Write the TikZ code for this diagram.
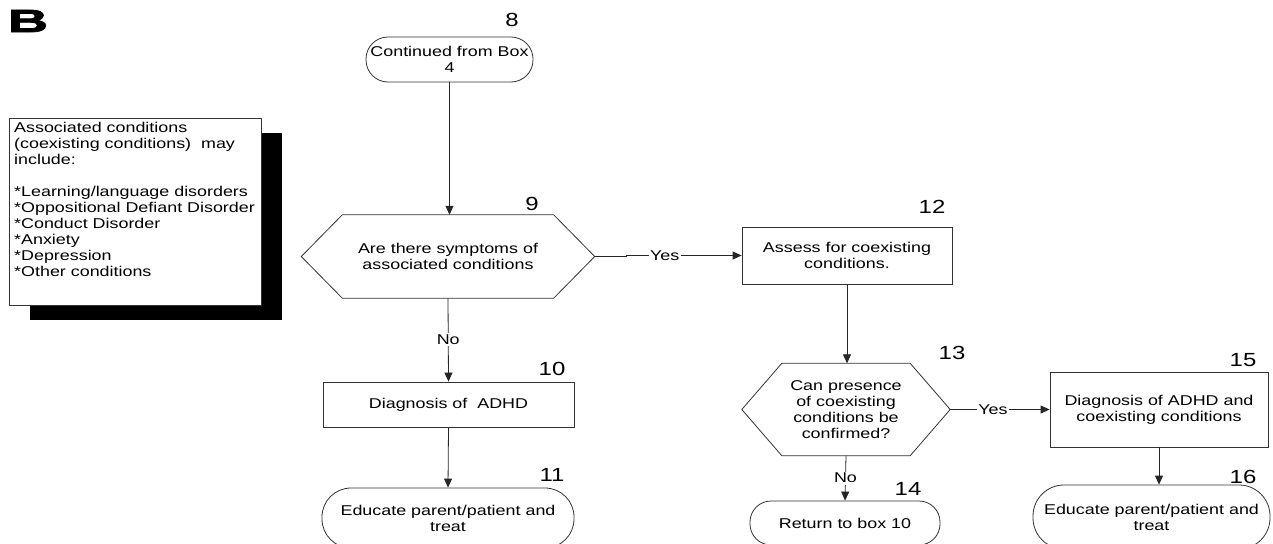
\documentclass[tikz,border=0pt]{standalone}
\usepackage{fontspec}
\setmainfont[FakeStretch=1.26]{Liberation Sans}
\newfontfamily\Bfont[FakeStretch=1.75,FakeBold=2.5]{Liberation Sans}
\usetikzlibrary{arrows.meta}
\newcommand{\hexshape}[2]{%
  \draw[shapeline] (#1.west) -- ([xshift=#2]#1.north west) -- ([xshift=-#2]#1.north east)
    -- (#1.east) -- ([xshift=-#2]#1.south east) -- ([xshift=#2]#1.south west) -- cycle;}
\begin{document}
\begin{tikzpicture}[x=1pt,y=-1pt,
  every node/.style={font=\fontsize{14.2}{16}\selectfont, inner sep=0pt},
  shapeline/.style={draw=black!80, line width=0.8pt},
  arr/.style={draw=black!85, line width=0.8pt, -{Triangle[length=9pt,width=8pt]}},
  boxnode/.style={shapeline, align=center},
  term/.style={boxnode, rounded corners=#1},
  num/.style={font=\fontsize{19}{19}\selectfont},
  yn/.style={fill=white, inner sep=1.5pt}]
\useasboundingbox (0,0) rectangle (1273,543);
\begin{scope}
\clip (0,0) rectangle (1273,543);
% panel letter
\node[font=\Bfont\bfseries\fontsize{32}{32}\selectfont] (B) at (28,21) {B};
% side note with shadow
\fill[black] (30,133) rectangle (282,320);
\node[shapeline, fill=white, minimum width=252pt, minimum height=187pt] (assoc) at (135,211.5) {};
\node[anchor=north west, align=left] (assoctext) at (14,122.5) {Associated conditions\\(coexisting conditions)\ \ may\\include:\\[16pt]*Learning/language disorders\\*Oppositional Defiant Disorder\\*Conduct Disorder\\*Anxiety\\*Depression\\*Other conditions};
% flow nodes
\node[term=22pt, minimum width=167pt, minimum height=45pt] (n8) at (449.5,59.5) {Continued from Box\\4};
\node[align=center, minimum width=293pt, minimum height=83pt] (n9) at (448,256.5) {Are there symptoms of\\associated conditions};
\hexshape{n9}{41pt}
\node[boxnode, minimum width=210pt, minimum height=57pt] (n12) at (847,255.5) {Assess for coexisting\\conditions.};
\node[boxnode, minimum width=251pt, minimum height=45pt] (n10) at (448.5,404.5) {Diagnosis of\ \ ADHD};
\node[term=29pt, minimum width=252pt, minimum height=60pt] (n11) at (448,518) {Educate parent/patient and\\treat};
\node[align=center, minimum width=208pt, minimum height=92pt] (n13) at (846,409.5) {Can presence\\of coexisting\\conditions be\\confirmed?};
\hexshape{n13}{40pt}
\node[term=21pt, minimum width=190pt, minimum height=44pt] (n14) at (845,523) {Return to box 10};
\node[boxnode, minimum width=218pt, minimum height=75pt] (n15) at (1159,409.5) {Diagnosis of ADHD and\\coexisting conditions};
\node[term=31pt, minimum width=237pt, minimum height=64pt] (n16) at (1151.5,517) {Educate parent/patient and\\treat};
% numbers
\node[num] (l8) at (512,20) {8};
\node[num] (l9) at (532,204) {9};
\node[num] (l12) at (932,207) {12};
\node[num] (l10) at (552,369) {10};
\node[num] (l11) at (552,475) {11};
\node[num] (l13) at (952,353) {13};
\node[num] (l14) at (908,489) {14};
\node[num] (l15) at (1243,360) {15};
\node[num] (l16) at (1243,477) {16};
% connectors
\draw[arr] (n8.south) -- (n8.south |- n9.north);
\draw[arr] (n9.south) -- node[yn] (no1) {No} (n10.north);
\draw[arr] (n9.east) -- ++(32pt,0) |- node[yn, pos=0.665] (yes1) {Yes} (n12.west);
\draw[arr] (n12.south) -- (n12.south |- n13.north);
\draw[arr] (n10.south) -- (n11.north);
\draw[arr] (n13.east) -- node[yn, pos=0.43] (yes2) {Yes} (n15.west);
\draw[arr] (n13.south) -- node[yn] (no2) {No} (n14.north);
\draw[arr] (n15.south) -- (n15.south |- n16.north);
\end{scope}
\end{tikzpicture}
\end{document}
